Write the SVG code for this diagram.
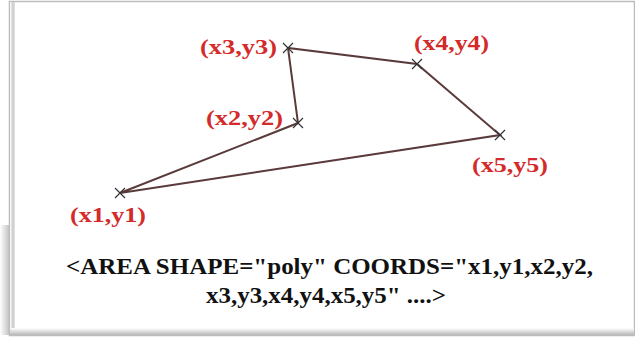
<svg xmlns="http://www.w3.org/2000/svg" width="635" height="340" viewBox="0 0 635 340">
<defs>
<linearGradient id="gl" x1="0" y1="0" x2="1" y2="0">
<stop offset="0" stop-color="#ffffff"/>
<stop offset="0.6" stop-color="#c8c8c8"/>
<stop offset="1" stop-color="#e8e8e8"/>
</linearGradient>
<linearGradient id="gb" x1="0" y1="0" x2="0" y2="1">
<stop offset="0" stop-color="#ffffff"/>
<stop offset="1" stop-color="#b8b8b8"/>
</linearGradient>
<linearGradient id="gs" x1="0" y1="0" x2="1" y2="0">
<stop offset="0" stop-color="#ffffff"/>
<stop offset="1" stop-color="#bdbdbd"/>
</linearGradient>
</defs>
<style>
.lbl{font-family:"Liberation Serif","Times New Roman",serif;font-weight:bold;font-size:22px;fill:#d42a2a}
.code{font-family:"Liberation Serif","Times New Roman",serif;font-weight:bold;font-size:23px;fill:#111}
.edge{stroke:#5a3a3a;stroke-width:2;fill:none}
.x{stroke:#333;stroke-width:1.2}
</style>
<rect x="0" y="0" width="635" height="340" fill="#ffffff"/>
<rect x="0" y="225" width="10" height="110" fill="url(#gs)"/>
<rect x="9.5" y="1.5" width="625" height="334" fill="#ffffff" stroke="#bcbcbc" stroke-width="1.5"/>
<rect x="10" y="2" width="5" height="333" fill="url(#gl)"/>
<rect x="10" y="328" width="624" height="7" fill="url(#gb)"/>
<g id="connectors">
<polygon class="edge" points="120,193 298,123 288,48 417,64 500,135"/>
</g>
<g id="p1"><path class="x" d="M115,188 L125,198 M115,198 L125,188"/><text class="lbl" x="70" y="222" textLength="76" lengthAdjust="spacingAndGlyphs">(x1,y1)</text></g>
<g id="p2"><path class="x" d="M293,118 L303,128 M293,128 L303,118"/><text class="lbl" x="206" y="125" textLength="77" lengthAdjust="spacingAndGlyphs">(x2,y2)</text></g>
<g id="p3"><path class="x" d="M283,43 L293,53 M283,53 L293,43"/><text class="lbl" x="200" y="54" textLength="77" lengthAdjust="spacingAndGlyphs">(x3,y3)</text></g>
<g id="p4"><path class="x" d="M412,59 L422,69 M412,69 L422,59"/><text class="lbl" x="414" y="50" textLength="75" lengthAdjust="spacingAndGlyphs">(x4,y4)</text></g>
<g id="p5"><path class="x" d="M495,130 L505,140 M495,140 L505,130"/><text class="lbl" x="472" y="172" textLength="76" lengthAdjust="spacingAndGlyphs">(x5,y5)</text></g>
<g id="caption">
<text class="code" x="66" y="274" textLength="527" lengthAdjust="spacingAndGlyphs">&lt;AREA SHAPE="poly" COORDS="x1,y1,x2,y2,</text>
<text class="code" x="206" y="303" textLength="240" lengthAdjust="spacingAndGlyphs">x3,y3,x4,y4,x5,y5" ....&gt;</text>
</g>
</svg>
